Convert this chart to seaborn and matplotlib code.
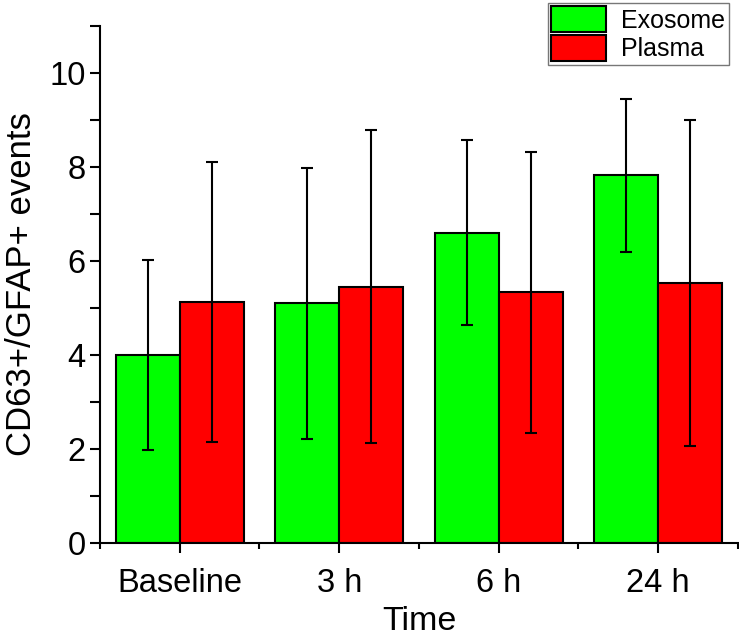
import numpy as np
import pandas as pd
import matplotlib
matplotlib.use('Agg')
import matplotlib.pyplot as plt
from matplotlib.ticker import MultipleLocator
import seaborn as sns

# values
times = ['Baseline', '3 h', '6 h', '24 h']
exosome_mean = [4.0, 5.1, 6.6, 7.82]
exosome_err = [2.03, 2.88, 1.97, 1.63]
plasma_mean = [5.12, 5.45, 5.33, 5.53]
plasma_err = [2.98, 3.33, 3.0, 3.47]

df = pd.DataFrame({
    'Time': times * 2,
    'Value': exosome_mean + plasma_mean,
    'Sample': ['Exosome'] * 4 + ['Plasma'] * 4,
})

sns.set_style('ticks', rc={'text.color': 'black', 'axes.labelcolor': 'black',
                           'xtick.color': 'black', 'ytick.color': 'black',
                           'axes.edgecolor': 'black'})
plt.rcParams['font.family'] = ['Liberation Sans', 'DejaVu Sans']

fig = plt.figure(figsize=(7.39, 6.41), dpi=100)
ax = fig.add_axes([0.1353, 0.1529, 0.8633, 0.8065])

sns.barplot(data=df, x='Time', y='Value', hue='Sample', order=times,
            palette={'Exosome': '#00ff00', 'Plasma': '#ff0000'},
            edgecolor='black', linewidth=1.5, width=0.8, saturation=1,
            errorbar=None, ax=ax)

# error bars on each bar
for cont, errs in zip(ax.containers, [exosome_err, plasma_err]):
    for bar, e in zip(cont, errs):
        xc = bar.get_x() + bar.get_width() / 2
        ax.errorbar(xc, bar.get_height(), yerr=e, color='black',
                    elinewidth=1.5, capsize=4.5, capthick=1.5, zorder=5)

ax.set_xlim(-0.5, 3.5)
ax.set_ylim(0, 11)
ax.yaxis.set_major_locator(MultipleLocator(2))
ax.yaxis.set_minor_locator(MultipleLocator(1))
ax.set_xticks(range(4))
ax.set_xticks([-0.5, 0.5, 1.5, 2.5, 3.5], minor=True)

for s in ['top', 'right']:
    ax.spines[s].set_visible(False)
for s in ['left', 'bottom']:
    ax.spines[s].set_linewidth(1.5)
ax.tick_params(axis='both', which='major', length=7, width=1.5, labelsize=23.5, direction='out')
ax.tick_params(axis='y', which='minor', length=7, width=1.5)
ax.tick_params(axis='x', which='minor', length=4, width=1.5)
ax.tick_params(axis='x', pad=11)

ax.set_xlabel('Time', fontsize=24.5, labelpad=5)
ax.set_ylabel('CD63+/GFAP+ events', fontsize=25, labelpad=8)

leg = ax.legend(loc='upper right', bbox_to_anchor=(0.99, 1.0), bbox_transform=fig.transFigure,
                fontsize=18, frameon=True, fancybox=False, edgecolor='#555555',
                handlelength=2.2, handleheight=1.2, borderpad=0.15, labelspacing=0.1,
                handletextpad=0.6, borderaxespad=0.1)
leg.get_frame().set_linewidth(1.0)

fig.savefig('out.png', dpi=100)
